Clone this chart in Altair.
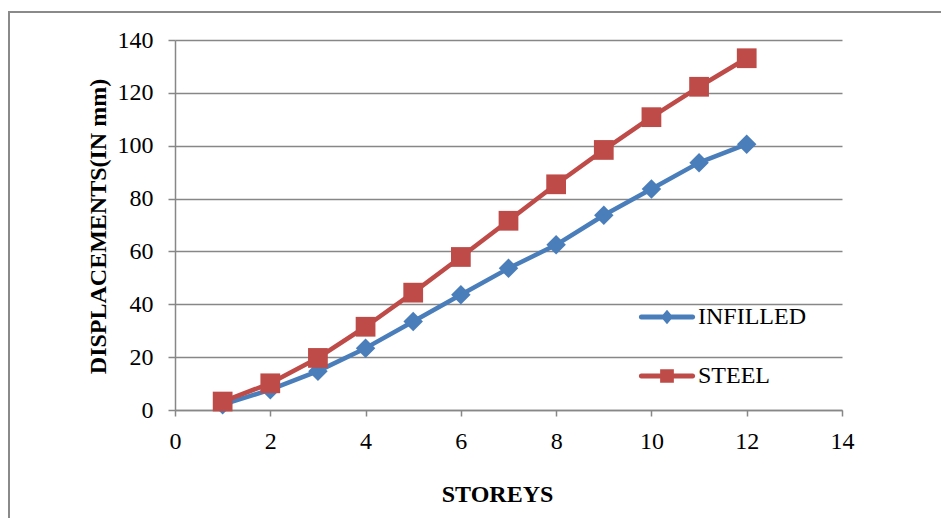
import altair as alt
import pandas as pd

# Storey number and lateral displacement (mm) for the two frame types
storeys = [1, 2, 3, 4, 5, 6, 7, 8, 9, 10, 11, 12]
infilled = [2.0, 7.7, 14.7, 23.4, 33.5, 43.6, 53.6, 62.5, 73.7, 83.6, 93.6, 100.6]
steel = [3.2, 10.1, 19.7, 31.5, 44.4, 57.9, 71.6, 85.4, 98.4, 110.8, 122.3, 133.1]

series_names = ["INFILLED", "STEEL"]
series_colors = ["#4A7EBB", "#BE4B48"]

x_ticks = [0, 2, 4, 6, 8, 10, 12, 14]
y_ticks = [0, 20, 40, 60, 80, 100, 120, 140]

df = pd.DataFrame(
    {
        "storey": storeys * 2,
        "disp": infilled + steel,
        "series": ["INFILLED"] * len(storeys) + ["STEEL"] * len(storeys),
    }
)

FONT = "Liberation Serif"
GRID = "#878787"

color_scale = alt.Scale(domain=series_names, range=series_colors)

x_enc = alt.X(
    "storey:Q",
    scale=alt.Scale(domain=[0, 14], nice=False),
    axis=alt.Axis(
        values=x_ticks,
        title="STOREYS",
        grid=False,
        tickSize=6,
        labelPadding=13,
        labelFlush=False,
        titleX=322,
        titleY=91,
        titleBaseline="alphabetic",
        titleAnchor="start",
        titleAlign="center",
    ),
)
y_enc = alt.Y(
    "disp:Q",
    scale=alt.Scale(domain=[0, 140], nice=False),
    axis=alt.Axis(
        values=y_ticks,
        title="DISPLACEMENTS(IN mm)",
        grid=True,
        tickSize=7,
        labelPadding=15,
        labelFlush=False,
        titleX=-70,
        titleY=186,
        titleAngle=270,
        titleBaseline="alphabetic",
        titleAlign="center",
    ),
)

base = alt.Chart(df)


def series_layers(name, color, shape, size):
    sub = base.transform_filter(alt.datum.series == name)
    line = sub.mark_line(
        color=color, strokeWidth=4.5, strokeJoin="round", strokeCap="round"
    ).encode(x=x_enc, y=y_enc)
    pts = sub.mark_point(
        shape=shape, filled=True, opacity=1, size=size, color=color
    ).encode(x="storey:Q", y="disp:Q")
    return [line, pts]


# Legend glyphs: a rounded bar with the series marker in the middle
legend_paths = [
    "M-0.92,-0.085 L0.92,-0.085 A0.085,0.085 0 0 1 0.92,0.085 L-0.92,0.085 "
    "A0.085,0.085 0 0 1 -0.92,-0.085 Z M0,-0.26 L0.22,0 L0,0.26 L-0.22,0 Z",
    "M-0.92,-0.085 L0.92,-0.085 A0.085,0.085 0 0 1 0.92,0.085 L-0.92,0.085 "
    "A0.085,0.085 0 0 1 -0.92,-0.085 Z M-0.245,-0.245 L0.245,-0.245 L0.245,0.245 L-0.245,0.245 Z",
]

legend = alt.Legend(
    title=None,
    orient="none",
    legendX=464,
    legendY=249,
    symbolSize=3136,
    symbolStrokeWidth=0,
    symbolOpacity=1,
    labelFont=FONT,
    labelFontSize=24,
    labelColor="black",
    labelOffset=3,
    rowPadding=19,
    padding=0,
)

# Invisible marks that only carry the legend
legend_layer = base.mark_point(filled=True, size=0).encode(
    x="storey:Q",
    y="disp:Q",
    color=alt.Color("series:N", scale=color_scale, legend=legend),
    shape=alt.Shape(
        "series:N",
        scale=alt.Scale(domain=series_names, range=legend_paths),
        legend=legend,
    ),
)

# Outer chart-area frame
frame = (
    alt.Chart(alt.Data(values=[{"f": 1}]))
    .mark_rect(fill=None, stroke="#8a8a8a", strokeWidth=2)
    .encode(
        x=alt.value(-166),
        y=alt.value(-28),
        x2=alt.value(820),
        y2=alt.value(520),
    )
)

layers = (
    [frame]
    + series_layers("INFILLED", series_colors[0], "diamond", 380)
    + series_layers("STEEL", series_colors[1], "square", 390)
    + [legend_layer]
)

chart = (
    alt.layer(*layers)
    .properties(
        width=667,
        height=370,
        autosize=alt.AutoSizeParams(type="none"),
        padding={"left": 175, "top": 40, "right": 99, "bottom": 108},
        background="white",
    )
    .configure_view(stroke=None)
    .configure_axis(
        domainColor=GRID,
        domainWidth=1.5,
        tickColor=GRID,
        tickWidth=1.5,
        gridColor=GRID,
        gridWidth=1.5,
        labelFont=FONT,
        labelFontSize=24,
        labelColor="black",
        titleFont=FONT,
        titleFontSize=24,
        titleFontWeight="bold",
        titleColor="black",
    )
)

chart.save("out.html", embed_options={"renderer": "svg", "actions": False})
